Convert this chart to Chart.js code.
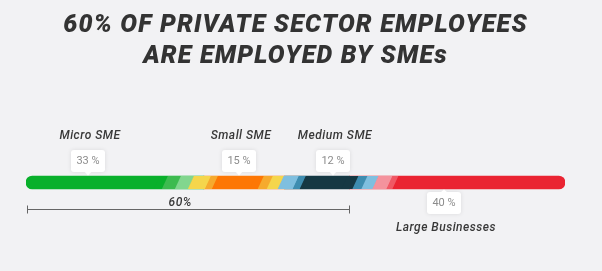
<!DOCTYPE html>
<html>
<head>
<meta charset="utf-8">
<script src="https://cdn.jsdelivr.net/npm/chart.js@4.4.0/dist/chart.umd.min.js"></script>
<style>
  html, body { margin: 0; padding: 0; background: #f2f2f4; }
  canvas { display: block; }
</style>
</head>
<body>
<canvas id="chart" width="602" height="271"></canvas>
<script>
// data read from the infographic
const categories = ["Micro SME", "Small SME", "Medium SME", "Large Businesses"];
const shares = [33, 15, 12, 40];
const smeCount = 3; // first three categories are SMEs
const titleLines = ["60% OF PRIVATE SECTOR EMPLOYEES", "ARE EMPLOYED BY SMEs"];

const colors = ["#09b02b", "#fd7705", "#153843", "#ea2432"];

// looks only: striped hand-over between neighbouring segments
const transitions = [
  { shift: -42, stripes: [["#3dbb4f", 13], ["#82d68e", 13], ["#f5d64c", 17], ["#f6aa2e", 7]] },
  { shift: -27, stripes: [["#f6aa2e", 9], ["#f5d64c", 11], ["#7fbfdf", 15], ["#3e8db0", 7]] },
  { shift: 3, stripes: [["#3e8db0", 9], ["#7fbfdf", 11], ["#f4939d", 14], ["#f05864", 6]] },
];
const calloutFrac = [0.35, 0.44, 0.74, 0.44];
const calloutSide = ["top", "top", "top", "bottom"];
const SLANT = 6;

function cumulative(i) {
  let s = 0;
  for (let k = 0; k < i; k++) s += shares[k];
  return s;
}

function roundRect(ctx, x, y, w, h, r) {
  ctx.beginPath();
  ctx.moveTo(x + r, y);
  ctx.arcTo(x + w, y, x + w, y + h, r);
  ctx.arcTo(x + w, y + h, x, y + h, r);
  ctx.arcTo(x, y + h, x, y, r);
  ctx.arcTo(x, y, x + w, y, r);
  ctx.closePath();
}

const overlay = {
  id: "overlay",
  beforeDraw(chart) {
    chart.ctx.letterSpacing = "1.2px";
  },
  beforeDatasetsDraw(chart) {
    chart.ctx.letterSpacing = "0px";
  },
  afterDatasetsDraw(chart) {
    const ctx = chart.ctx;
    const xs = chart.scales.x;
    const bar = chart.getDatasetMeta(0).data[0];
    const top = bar.y - bar.height / 2;
    const bottom = bar.y + bar.height / 2;

    // striped transitions
    ctx.save();
    ctx.beginPath();
    ctx.rect(chart.chartArea.left + 8, top, chart.chartArea.width - 16, bottom - top);
    ctx.clip();
    const para = (x0, x1, color) => {
      ctx.beginPath();
      ctx.moveTo(x0, bottom);
      ctx.lineTo(x1 + 0.6, bottom);
      ctx.lineTo(x1 + 0.6 + SLANT, top);
      ctx.lineTo(x0 + SLANT, top);
      ctx.closePath();
      ctx.fillStyle = color;
      ctx.fill();
    };
    transitions.forEach((t, k) => {
      const boundary = xs.getPixelForValue(cumulative(k + 1));
      let x = boundary + t.shift;
      para(Math.min(boundary, x) - SLANT - 2, x, colors[k]);
      t.stripes.forEach(([c, w]) => {
        para(x, x + w, c);
        x += w;
      });
      para(x, Math.max(boundary, x) + 2, colors[k + 1]);
    });
    ctx.restore();

    // callouts and category labels
    ctx.save();
    ctx.textAlign = "center";
    ctx.textBaseline = "middle";
    categories.forEach((name, i) => {
      const cx = Math.round(xs.getPixelForValue(cumulative(i) + calloutFrac[i] * shares[i]));
      const w = 34, h = 22;
      const bx = cx - w / 2;
      const up = calloutSide[i] === "top";
      const by = up ? top - 4 - h : bottom + 3;
      ctx.save();
      ctx.shadowColor = "rgba(0,0,0,0.10)";
      ctx.shadowBlur = 4;
      ctx.fillStyle = "#ffffff";
      roundRect(ctx, bx, by, w, h, 3);
      ctx.fill();
      ctx.restore();
      ctx.fillStyle = "#ffffff";
      ctx.beginPath();
      if (up) {
        ctx.moveTo(cx - 4, by + h - 1);
        ctx.lineTo(cx + 4, by + h - 1);
        ctx.lineTo(cx, top - 0.5);
      } else {
        ctx.moveTo(cx - 4, by + 1);
        ctx.lineTo(cx + 4, by + 1);
        ctx.lineTo(cx, bottom + 0.5);
      }
      ctx.closePath();
      ctx.fill();

      ctx.fillStyle = "#8c8c8c";
      ctx.font = "11px Roboto";
      ctx.fillText(shares[i] + " %", cx, by + h / 2 + 0.5);

      ctx.fillStyle = "#383838";
      ctx.font = "italic 500 12px Roboto";
      ctx.letterSpacing = "0.5px";
      ctx.fillText(name, cx + 2, up ? by - 14 : by + h + 14);
      ctx.letterSpacing = "0px";
    });

    // bracket for the SME total
    const smeTotal = cumulative(smeCount);
    const x0 = xs.getPixelForValue(0) + 1;
    const x1 = xs.getPixelForValue(smeTotal);
    const ly = bottom + 20.5;
    ctx.strokeStyle = "#666666";
    ctx.lineWidth = 1;
    ctx.beginPath();
    ctx.moveTo(x0, ly);
    ctx.lineTo(x1, ly);
    ctx.moveTo(Math.round(x0) + 0.5, ly - 4);
    ctx.lineTo(Math.round(x0) + 0.5, ly + 4);
    ctx.moveTo(Math.round(x1) + 0.5, ly - 4);
    ctx.lineTo(Math.round(x1) + 0.5, ly + 4);
    ctx.stroke();
    ctx.fillStyle = "#383838";
    ctx.font = "italic 500 12px Roboto";
    ctx.letterSpacing = "0.5px";
    ctx.fillText(smeTotal + "%", (x0 + x1) / 2 - 8, ly - 7);
    ctx.restore();
  },
};

const datasets = categories.map((name, i) => ({
  label: name,
  data: [shares[i]],
  backgroundColor: colors[i],
  borderWidth: 0,
  borderSkipped: false,
  barThickness: 13,
  borderRadius: i === 0
    ? { topLeft: 7, bottomLeft: 7, topRight: 0, bottomRight: 0 }
    : i === categories.length - 1
      ? { topLeft: 0, bottomLeft: 0, topRight: 7, bottomRight: 7 }
      : 0,
}));

new Chart(document.getElementById("chart"), {
  type: "bar",
  data: { labels: ["share"], datasets },
  options: {
    indexAxis: "y",
    responsive: false,
    animation: false,
    events: [],
    layout: { padding: { left: 26, right: 37, top: 0, bottom: 38 } },
    scales: {
      x: { stacked: true, min: 0, max: 100, display: false },
      y: { stacked: true, display: false },
    },
    plugins: {
      legend: { display: false },
      tooltip: { enabled: false },
      title: {
        display: true,
        text: titleLines,
        color: "#333333",
        font: { family: "Roboto", size: 25, weight: "900", style: "italic", lineHeight: 1.24 },
        padding: { top: 10, bottom: 60 },
      },
    },
  },
  plugins: [overlay],
});
</script>
</body>
</html>
